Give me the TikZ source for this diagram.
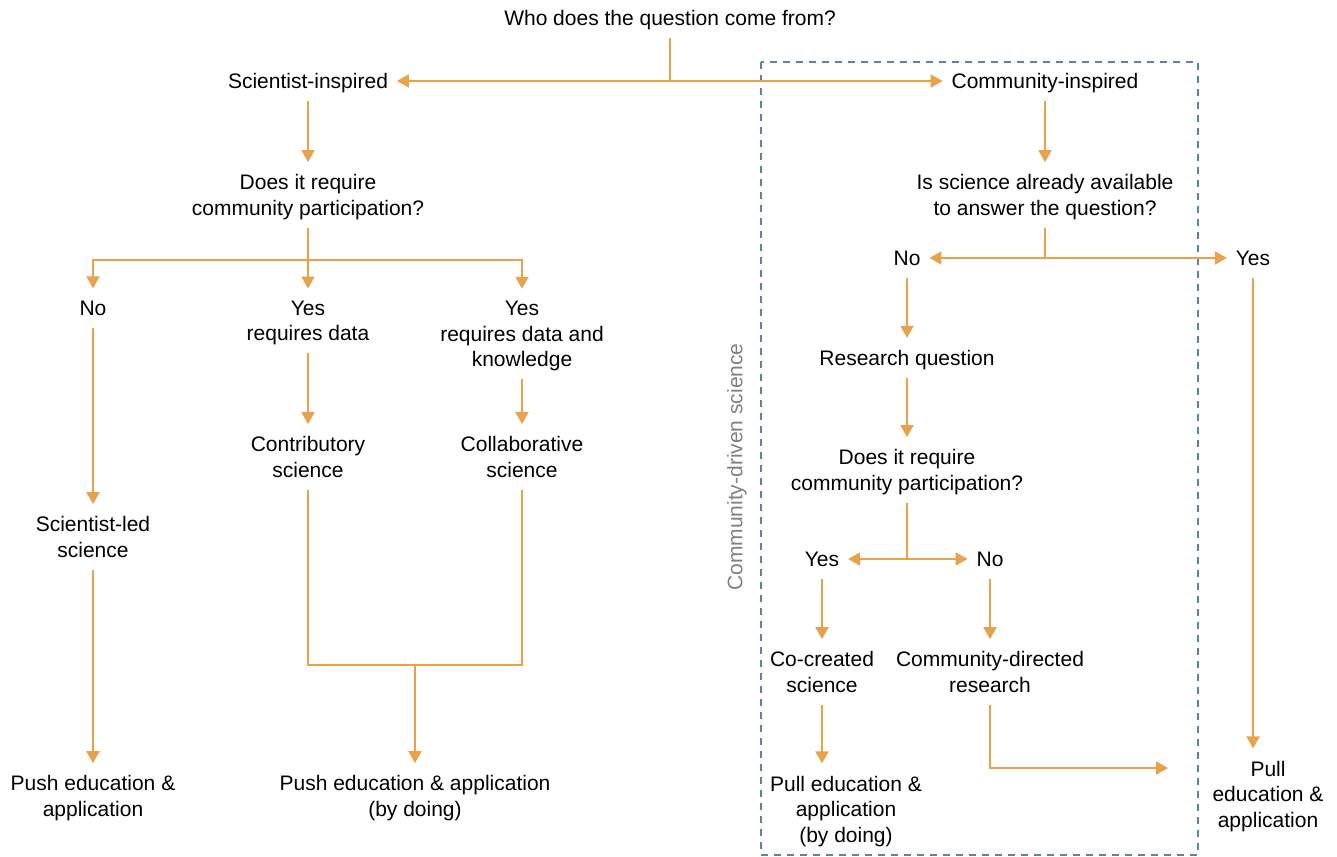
\documentclass[tikz,border=0pt]{standalone}
\usepackage{fontspec}
\setmainfont{Liberation Sans}
\usetikzlibrary{arrows.meta}
\definecolor{flow}{RGB}{232,162,76}
\definecolor{boxblue}{RGB}{88,132,180}
\definecolor{lblgray}{RGB}{128,128,128}
\tikzset{
  txt/.style={font=\fontsize{21}{25.5}\selectfont, align=center, inner sep=0pt,
              text depth=0pt, outer xsep=9pt, outer ysep=12.5pt, text=black},
  line/.style={draw=flow, line width=2pt},
  arr/.style={line, -{Triangle[length=12pt,width=13pt]}},
  dbl/.style={line, {Triangle[length=12pt,width=13pt]}-{Triangle[length=12pt,width=13pt]}},
  dashbox/.style={draw=boxblue, line width=1.5pt, dash pattern=on 7pt off 6pt},
  sidelabel/.style={font=\fontsize{21}{25.5}\selectfont, text=lblgray, rotate=90, inner sep=0pt}
}
\begin{document}
\begin{tikzpicture}[x=1pt, y=-1pt]
\useasboundingbox (0,0) rectangle (1337,856);
\draw[dashbox] (761,62) rectangle (1198,855);
\node[sidelabel] (lbl) at (737,467) {Community-driven science};

% nodes
\node[txt] (q0) at (670,18) {Who does the question come from?};
\node[txt] (si) at (308,81) {Scientist-inspired};
\node[txt] (ci) at (1045,81) {Community-inspired};
\node[txt] (rq1) at (308,195) {Does it require\\community participation?};
\node[txt] (no1) at (93,308) {No};
\node[txt] (yes1) at (308,321) {Yes\\requires data};
\node[txt] (yes2) at (522,334) {Yes\\requires data and\\knowledge};
\node[txt] (sled) at (93,537) {Scientist-led\\science};
\node[txt] (contrib) at (308,457) {Contributory\\science};
\node[txt] (collab) at (522,457) {Collaborative\\science};
\node[txt] (push1) at (93,796) {Push education \&\\application};
\node[txt] (push2) at (415,796) {Push education \& application\\(by doing)};
\node[txt] (avail) at (1045,195) {Is science already available\\to answer the question?};
\node[txt] (no2) at (907,258) {No};
\node[txt] (yes3) at (1253,258) {Yes};
\node[txt] (resq) at (907,358) {Research question};
\node[txt] (rq2) at (907,470) {Does it require\\community participation?};
\node[txt] (yes4) at (822,559) {Yes};
\node[txt] (no3) at (990,559) {No};
\node[txt] (cocr) at (822,672) {Co-created\\science};
\node[txt] (cdr) at (990,672) {Community-directed\\research};
\node[txt] (pull1) at (846,809) {Pull education \&\\application\\(by doing)};
\node[txt] (pull2) at (1268,794) {Pull\\education \&\\application};

\coordinate (j1) at (308,260);
\coordinate (m) at (415,665);
\coordinate (j2) at (1045,258);
\coordinate (j3) at (907,559);
\coordinate (e1) at (1168,768);

% connectors
\draw[line] (q0.south) -- (q0.south |- si.east);
\draw[dbl] (si.east) -- (ci.west);
\draw[arr] (si.south) -- (rq1.north);
\draw[line] (rq1.south) -- (j1);
\draw[arr] (j1) -| (no1.north);
\draw[arr] (j1) -- (yes1.north);
\draw[arr] (j1) -| (yes2.north);
\draw[arr] (no1.south) -- (sled.north);
\draw[arr] (yes1.south) -- (contrib.north);
\draw[arr] (yes2.south) -- (collab.north);
\draw[line] (contrib.south) |- (m);
\draw[line] (collab.south) |- (m);
\draw[arr] (m) -- (push2.north);
\draw[arr] (sled.south) -- (push1.north);

\draw[arr] (ci.south) -- (avail.north);
\draw[line] (avail.south) -- (j2);
\draw[dbl] (no2.east) -- (yes3.west);
\draw[arr] (no2.south) -- (resq.north);
\draw[arr] (resq.south) -- (rq2.north);
\draw[line] (rq2.south) -- (j3);
\draw[dbl] (yes4.east) -- (no3.west);
\draw[arr] (yes4.south) -- (cocr.north);
\draw[arr] (no3.south) -- (cdr.north);
\draw[arr] (cocr.south) -- (cocr.south |- pull1.north);
\draw[arr] (cdr.south) |- (e1);
\draw[arr] (yes3.south) -- (yes3.south |- pull2.north);
\end{tikzpicture}
\end{document}
